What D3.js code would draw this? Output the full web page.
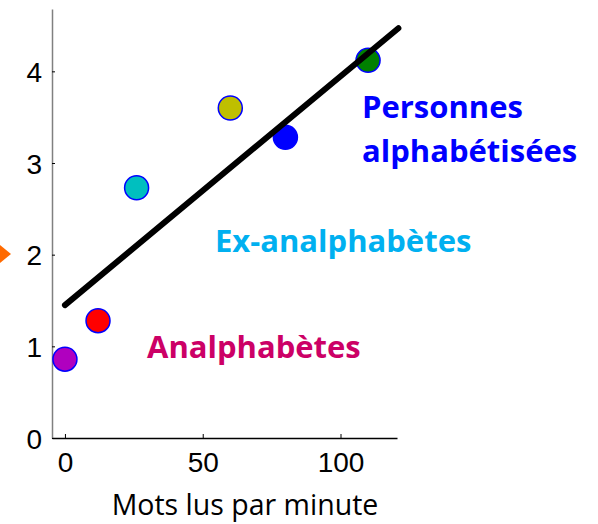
<!DOCTYPE html>
<html>
<head>
<meta charset="utf-8">
<script src="https://cdn.jsdelivr.net/npm/d3@7"></script>
<style>
  body { margin: 0; background: #fff; }
  svg { display: block; }
</style>
</head>
<body>
<svg id="chart" width="598" height="524"></svg>
<script>
// the data
var groups = ['Analphabètes (0)', 'Analphabètes', 'Ex-analphabètes', 'Ex-analphabètes (2)', 'Alphabétisés', 'Alphabétisés (2)'];
var wordsPerMin = [0, 12, 26, 60, 80, 110];
var score = [0.86, 1.28, 2.73, 3.6, 3.28, 4.12];
var dotColors = ['#b000bf', '#ff0000', '#00bfbf', '#bfbf00', '#0000ff', '#008000'];
var fitX = [0, 121];
var fitY = [1.45, 4.47];
var xTicks = [0, 50, 100];
var yTicks = [0, 1, 2, 3, 4];
var labels = [['Personnes', 'alphabétisées'], ['Ex-analphabètes'], ['Analphabètes']];
var labelColors = ['#0000ff', '#00b0f0', '#cc0066'];

var svg = d3.select('#chart');

var scX = d3.scaleLinear().domain([-4.7, 120.5]).range([52, 397]);
var scY = d3.scaleLinear().domain([0, 4.68]).range([438, 9]);

// y axis (grey line, inward ticks)
var yAx = svg.append('g').attr('transform', 'translate(52,0)')
    .call(d3.axisLeft(scY).tickValues(yTicks).tickFormat(d3.format('d'))
        .tickSizeInner(-3).tickSizeOuter(0).tickPadding(10));
yAx.select('.domain').attr('stroke', '#808080').attr('stroke-width', 1.5);
yAx.selectAll('.tick line').attr('stroke', '#000');
yAx.selectAll('text').attr('font-family', 'Liberation Sans, Arial, sans-serif')
    .attr('font-size', 28).attr('fill', '#000').attr('dy', '0.36em');

// x axis
var xAx = svg.append('g').attr('transform', 'translate(0,438)')
    .call(d3.axisBottom(scX).tickValues(xTicks).tickFormat(d3.format('d'))
        .tickSizeInner(-4).tickSizeOuter(0).tickPadding(14));
xAx.select('.domain').attr('stroke', '#000').attr('stroke-width', 1.5);
xAx.selectAll('text').attr('font-family', 'Liberation Sans, Arial, sans-serif')
    .attr('font-size', 28).attr('fill', '#000').attr('dy', '0.7em');

svg.append('text')
    .attr('x', 245).attr('y', 515)
    .attr('text-anchor', 'middle')
    .attr('font-family', 'Open Sans, sans-serif').attr('font-size', 28.5)
    .attr('fill', '#000')
    .text('Mots lus par minute');

// points
var pts = wordsPerMin.map((w, i) => ({ x: w, y: score[i], c: dotColors[i] }));
svg.selectAll('circle.dot')
    .data(pts).enter().append('circle')
    .attr('class', 'dot')
    .attr('cx', d => scX(d.x)).attr('cy', d => scY(d.y))
    .attr('r', 12)
    .attr('fill', d => d.c)
    .attr('stroke', '#0000ff').attr('stroke-width', 1.5);

// regression line
svg.append('line')
    .attr('x1', scX(fitX[0])).attr('y1', scY(fitY[0]))
    .attr('x2', scX(fitX[1])).attr('y2', scY(fitY[1]))
    .attr('stroke', '#000').attr('stroke-width', 6).attr('stroke-linecap', 'round');

// group labels
var labelPos = [[362, 118], [215, 252], [147, 358]];
labels.forEach(function(lines, i){
    var t = svg.append('text')
        .attr('x', labelPos[i][0]).attr('y', labelPos[i][1])
        .attr('font-family', 'Open Sans, sans-serif').attr('font-weight', 'bold')
        .attr('font-size', 31).attr('fill', labelColors[i]);
    lines.forEach(function(s, k){
        t.append('tspan').attr('x', labelPos[i][0]).attr('dy', k ? 44 : 0).text(s);
    });
});

// orange arrow head at the left edge
svg.append('path')
    .attr('d', d3.line()([[0, 245], [11, 254], [0, 263]]))
    .attr('fill', '#ff6a00');
</script>
</body>
</html>
